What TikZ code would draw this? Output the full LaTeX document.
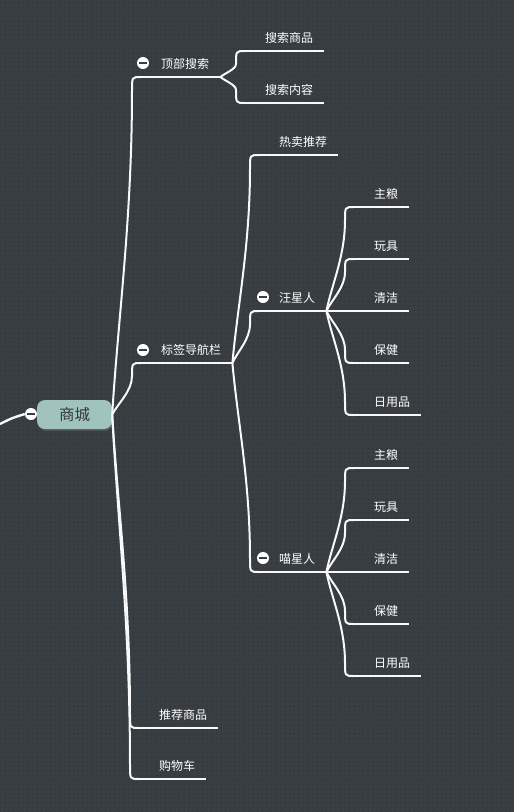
\documentclass[tikz,border=0pt]{standalone}
\usepackage{fontspec}
\newfontfamily\cjk{Noto Sans CJK SC}
\usetikzlibrary{calc,patterns,shadows}
\definecolor{bgc}{RGB}{56,62,66}
\definecolor{dotc}{RGB}{46,51,55}
\definecolor{rootc}{RGB}{160,196,189}
\definecolor{roott}{RGB}{52,56,58}
\definecolor{linec}{RGB}{248,248,248}
\pgfdeclarepatternformonly{bgdots}{\pgfqpoint{-1pt}{-1pt}}{\pgfqpoint{1pt}{1pt}}{\pgfqpoint{4.6pt}{4.6pt}}{\pgfpathcircle{\pgfqpoint{0pt}{0pt}}{0.75pt}\pgfusepath{fill}}
\begin{document}
\begin{tikzpicture}[x=1pt,y=-1pt,
  line/.style={draw=linec, line width=2pt},
  topic/.style={anchor=south west, inner sep=0pt, text=white,
    font=\cjk\fontsize{12pt}{14pt}\selectfont,
    text height=11pt, text depth=8.4pt,
    execute at begin node=\hspace*{20pt},
    execute at end node=\hspace*{11pt}},
  rootbox/.style={rounded corners=8pt, fill=rootc, text=roott,
    minimum width=75pt, minimum height=29pt, inner sep=0pt,
    font=\cjk\fontsize{15.5pt}{17pt}\selectfont,
    drop shadow={shadow xshift=1pt, shadow yshift=-2pt, opacity=0.35}},
  toggle/.style={circle, fill=white, minimum size=12pt, inner sep=0pt,
    path picture={\draw[line width=1.8pt, draw=bgc]
      ([xshift=-3.6pt]path picture bounding box.center) --
      ([xshift=3.6pt]path picture bounding box.center);}},
  branch/.style={to path={
    let \p1=(\tikztostart), \p2=(\tikztotarget),
        \n1={sign(\y2-\y1)},
        \p3=(\x2-9pt,\y2-\n1*13pt)
    in .. controls ($(\p1)!0.3!(\p3)$) and (\x3,{\y3-0.4*(\y3-\y1)}) .. (\p3)
       .. controls (\x3,\y2) .. (\p2)}}
]
\useasboundingbox (0,0) rectangle (514,812);
\fill[bgc] (0,0) rectangle (514,812);
\fill[pattern=bgdots, pattern color=dotc] (0,0) rectangle (514,812);

% root
\node[rootbox] (root) at (74.5,414.5) {商城};

% level 1
\node[topic] (t1) at (141,77) {顶部搜索};
\node[topic] (t2) at (141,363) {标签导航栏};
\node[topic] (t3) at (139,728) {推荐商品};
\node[topic] (t4) at (139,779) {购物车};

% level 2
\node[topic] (s1) at (245,51) {搜索商品};
\node[topic] (s2) at (245,103) {搜索内容};
\node[topic] (n1) at (259,155) {热卖推荐};
\node[topic] (wang) at (259,311) {汪星人};
\node[topic] (miao) at (259,572) {喵星人};

% level 3
\node[topic] (w1) at (354,207) {主粮};
\node[topic] (w2) at (354,259) {玩具};
\node[topic] (w3) at (354,311) {清洁};
\node[topic] (w4) at (354,363) {保健};
\node[topic] (w5) at (354,415) {日用品};
\node[topic] (m1) at (354,468) {主粮};
\node[topic] (m2) at (354,520) {玩具};
\node[topic] (m3) at (354,572) {清洁};
\node[topic] (m4) at (354,624) {保健};
\node[topic] (m5) at (354,676) {日用品};

% underlines
\foreach \n in {t1,t2,t3,t4,s1,s2,n1,wang,miao,w1,w2,w3,w4,w5,m1,m2,m3,m4,m5}
  \draw[line] (\n.south west) -- (\n.south east);

% connectors
\draw[line] (root.east) to[branch] (t1.south west);
\draw[line] (root.east) to[branch] (t2.south west);
\draw[line] (root.east) to[branch] (t3.south west);
\draw[line] (root.east) to[branch] (t4.south west);
\draw[line] (t1.south east) to[branch] (s1.south west);
\draw[line] (t1.south east) to[branch] (s2.south west);
\draw[line] (t2.south east) to[branch] (n1.south west);
\draw[line] (t2.south east) to[branch] (wang.south west);
\draw[line] (t2.south east) to[branch] (miao.south west);
\draw[line] (wang.south east) to[branch] (w1.south west);
\draw[line] (wang.south east) to[branch] (w2.south west);
\draw[line] (wang.south east) -- (w3.south west);
\draw[line] (wang.south east) to[branch] (w4.south west);
\draw[line] (wang.south east) to[branch] (w5.south west);
\draw[line] (miao.south east) to[branch] (m1.south west);
\draw[line] (miao.south east) to[branch] (m2.south west);
\draw[line] (miao.south east) -- (m3.south west);
\draw[line] (miao.south east) to[branch] (m4.south west);
\draw[line] (miao.south east) to[branch] (m5.south west);

% incoming line and toggles
\coordinate (inL) at (0,424);
\node[toggle] (rtog) at (31,414) {};
\draw[line, line width=2.4pt] (inL) .. controls (12,418) .. (rtog.west);
\node[toggle] (tg1) at (143,63) {};
\node[toggle] (tg2) at (143,350) {};
\node[toggle] (tgw) at (263,297) {};
\node[toggle] (tgm) at (263,558) {};
\end{tikzpicture}
\end{document}
